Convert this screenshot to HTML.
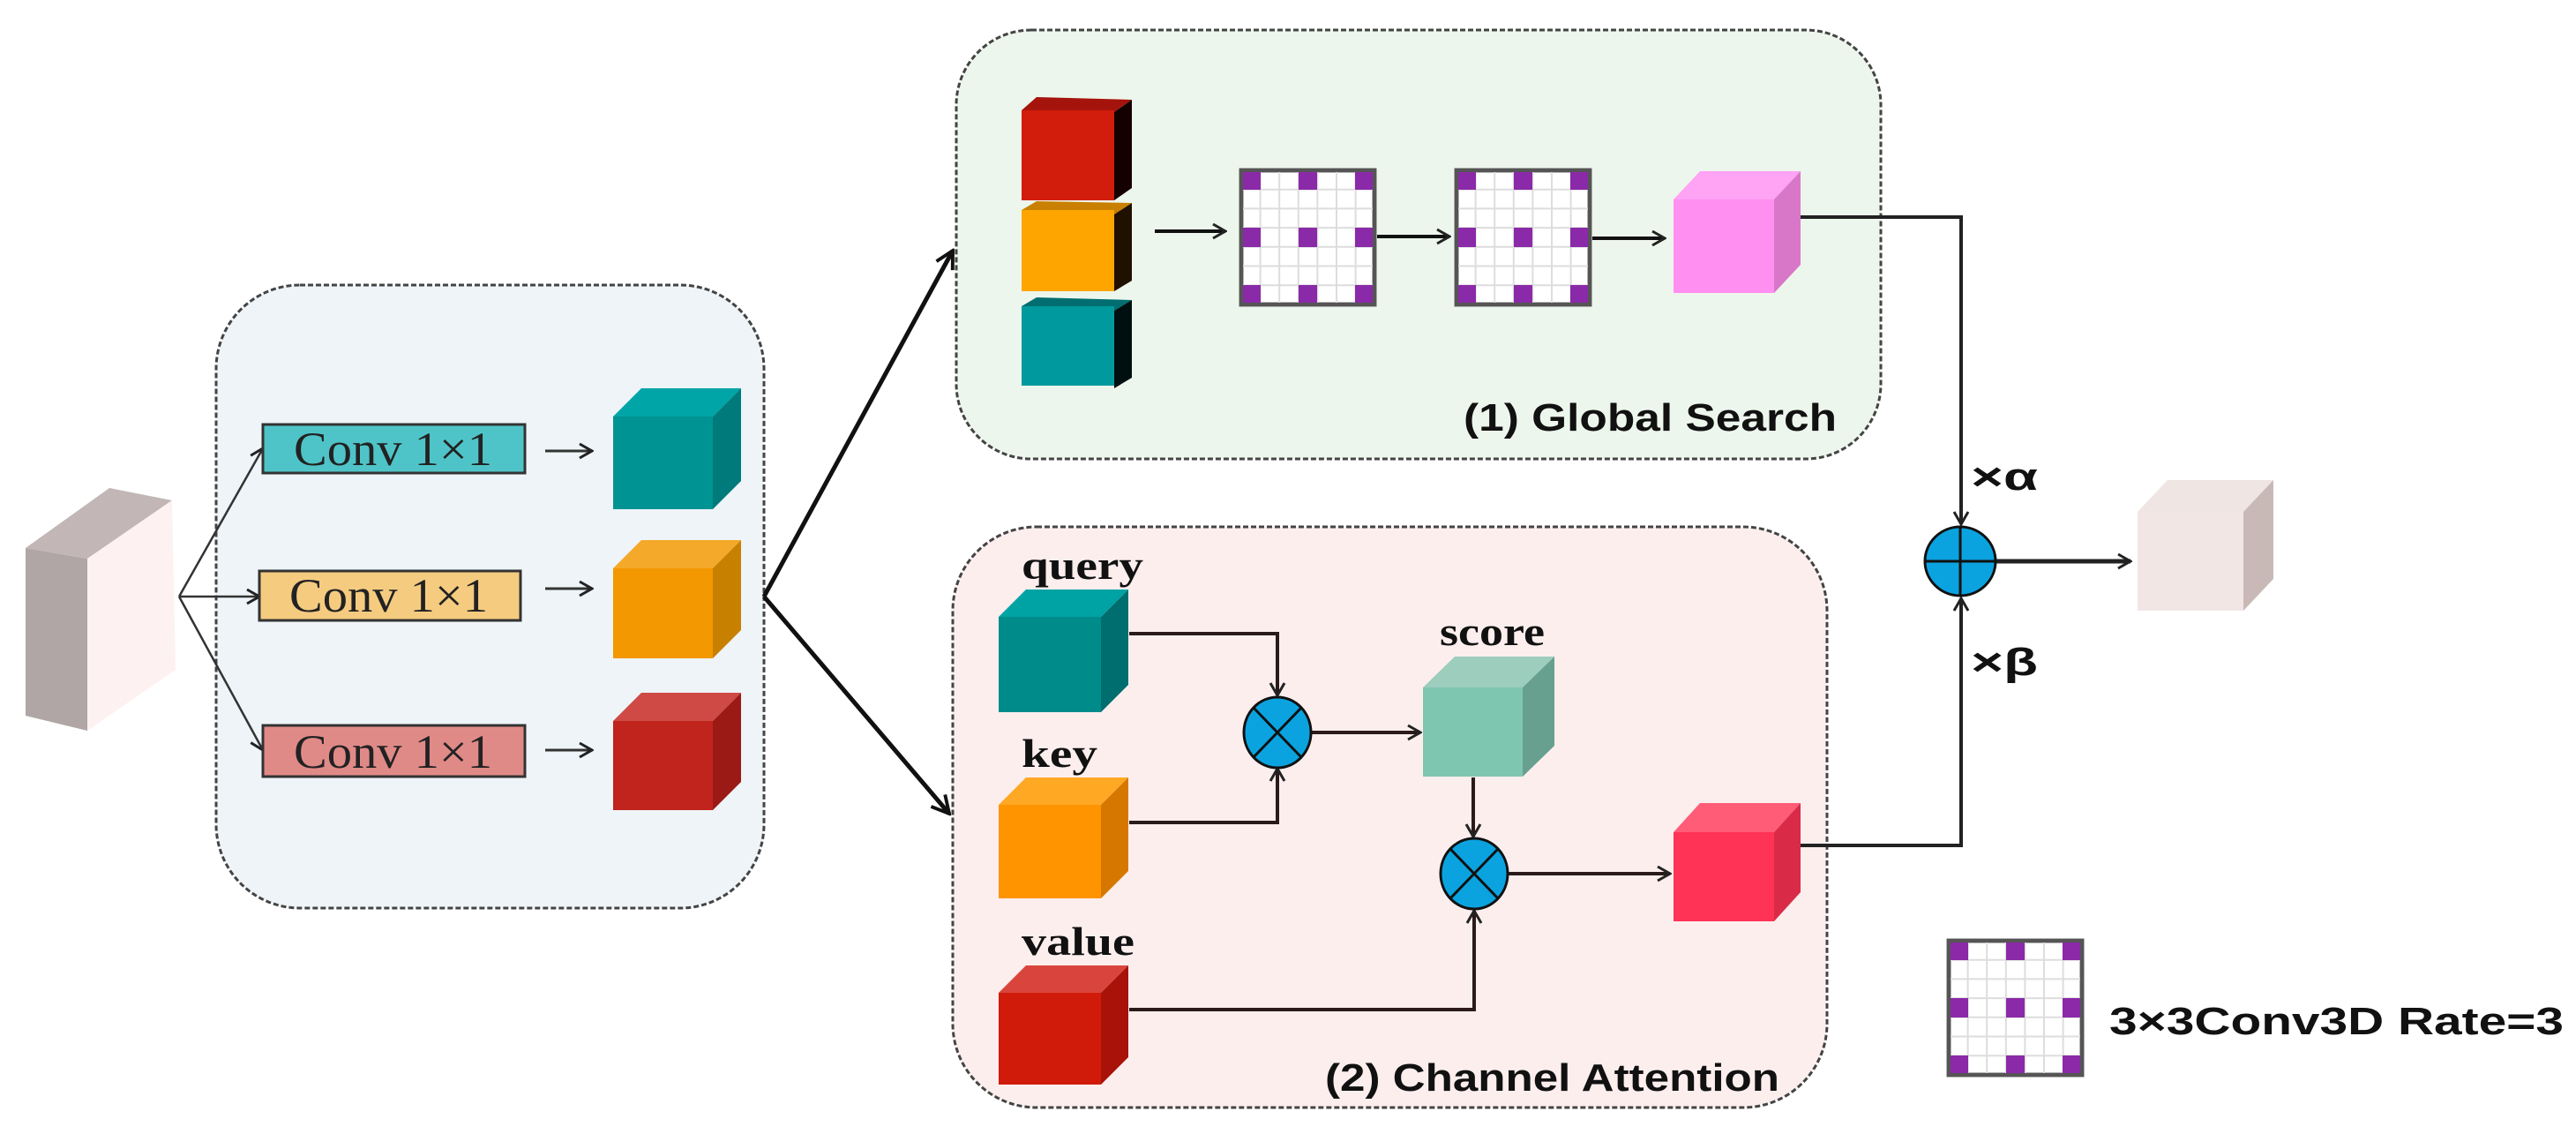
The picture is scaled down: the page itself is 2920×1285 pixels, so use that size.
<!DOCTYPE html>
<html><head><meta charset="utf-8"><style>
html,body{margin:0;padding:0;background:#fff;width:2920px;height:1285px;overflow:hidden}
svg{display:block}
</style></head><body>
<svg width="2920" height="1285" viewBox="0 0 2920 1285" xmlns="http://www.w3.org/2000/svg">
<defs>
<marker id="a" viewBox="0 0 20 20" refX="18" refY="10" markerWidth="20" markerHeight="20" markerUnits="userSpaceOnUse" orient="auto">
<path d="M4,2 L18,10 L4,18" fill="none" stroke="#222" stroke-width="3"/></marker>
<marker id="b" viewBox="0 0 20 20" refX="18" refY="10" markerWidth="26" markerHeight="26" markerUnits="userSpaceOnUse" orient="auto">
<path d="M3,2 L18,10 L3,18" fill="none" stroke="#111" stroke-width="3"/></marker>
<g id="grid">
<rect x="0" y="0" width="151" height="152" fill="#fff" stroke="#666" stroke-width="5"/>
<g stroke="#ddd" stroke-width="2">
<line x1="21.6" y1="0" x2="21.6" y2="152"/><line x1="43.2" y1="0" x2="43.2" y2="152"/><line x1="64.8" y1="0" x2="64.8" y2="152"/><line x1="86.4" y1="0" x2="86.4" y2="152"/><line x1="108" y1="0" x2="108" y2="152"/><line x1="129.6" y1="0" x2="129.6" y2="152"/>
<line x1="0" y1="21.7" x2="151" y2="21.7"/><line x1="0" y1="43.4" x2="151" y2="43.4"/><line x1="0" y1="65.1" x2="151" y2="65.1"/><line x1="0" y1="86.8" x2="151" y2="86.8"/><line x1="0" y1="108.5" x2="151" y2="108.5"/><line x1="0" y1="130.2" x2="151" y2="130.2"/>
</g>
<g fill="#8a2aa8">
<rect x="2" y="2" width="20" height="20"/><rect x="65" y="2" width="21" height="20"/><rect x="129" y="2" width="20" height="20"/>
<rect x="2" y="65" width="20" height="22"/><rect x="65" y="65" width="21" height="22"/><rect x="129" y="65" width="20" height="22"/>
<rect x="2" y="130" width="20" height="20"/><rect x="65" y="130" width="21" height="20"/><rect x="129" y="130" width="20" height="20"/>
</g>
<rect x="0" y="0" width="151" height="152" fill="none" stroke="#555" stroke-width="4"/>
</g>
</defs>

<!-- input block -->
<polygon points="29,621 99,633 99,828 29,811" fill="#b0a6a6"/>
<polygon points="29,621 124,553 195,567 99,633" fill="#c2b6b6"/>
<polygon points="99,633 195,567 199,759 99,828" fill="#fdf1f1"/>

<!-- blue box -->
<rect x="245" y="323" width="621" height="706" rx="95" fill="#eef4f8" stroke="#444" stroke-width="3" stroke-dasharray="6 3"/>
<!-- fork -->
<g stroke="#333" stroke-width="2.5" fill="none" marker-end="url(#a)">
<line x1="203" y1="676" x2="298" y2="508"/>
<line x1="203" y1="676" x2="294" y2="676"/>
<line x1="203" y1="676" x2="298" y2="850"/>
</g>
<!-- conv boxes -->
<rect x="298" y="481" width="297" height="55" fill="#4fc4c8" stroke="#333" stroke-width="3"/>
<rect x="294" y="647" width="296" height="56" fill="#f5cb80" stroke="#333" stroke-width="3"/>
<rect x="298" y="822" width="297" height="58" fill="#e08a88" stroke="#333" stroke-width="3"/>
<g font-family="'Liberation Serif',serif" font-size="54" fill="#222">
<text x="333" y="527" textLength="225" lengthAdjust="spacingAndGlyphs">Conv 1×1</text>
<text x="328" y="693" textLength="225" lengthAdjust="spacingAndGlyphs">Conv 1×1</text>
<text x="333" y="870" textLength="225" lengthAdjust="spacingAndGlyphs">Conv 1×1</text>
</g>
<g stroke="#333" stroke-width="3" marker-end="url(#a)">
<line x1="618" y1="511" x2="671" y2="511"/>
<line x1="618" y1="667" x2="671" y2="667"/>
<line x1="618" y1="850" x2="671" y2="850"/>
</g>
<!-- conv cubes -->
<g>
<polygon points="695,472 727,440 840,440 808,472" fill="#00a5a8"/><polygon points="808,472 840,440 840,545 808,577" fill="#007a7a"/><rect x="695" y="472" width="113" height="105" fill="#009393"/>
<polygon points="695,644 727,612 840,612 808,644" fill="#f5a92a"/><polygon points="808,644 840,612 840,714 808,746" fill="#c88000"/><rect x="695" y="644" width="113" height="102" fill="#f39800"/>
<polygon points="695,817 727,785 840,785 808,817" fill="#cf4a44"/><polygon points="808,817 840,785 840,886 808,918" fill="#9b1a15"/><rect x="695" y="817" width="113" height="101" fill="#c0241d"/>
</g>

<!-- big arrows -->
<g stroke="#111" stroke-width="5" fill="none" marker-end="url(#b)">
<line x1="866" y1="676" x2="1080" y2="284"/>
<line x1="866" y1="676" x2="1076" y2="922"/>
</g>

<!-- green box -->
<rect x="1084" y="34" width="1048" height="486" rx="85" fill="#edf6ec" stroke="#444" stroke-width="3" stroke-dasharray="6 3"/>
<!-- stacked -->
<polygon points="1158,125 1175,110 1283,113 1263,127" fill="#a5140c"/><polygon points="1263,127 1283,113 1283,213 1263,227" fill="#150000"/><rect x="1158" y="125" width="105" height="102" fill="#d21c0c"/>
<polygon points="1158,238 1175,228 1283,230 1263,243" fill="#c98000"/><polygon points="1263,243 1283,230 1283,318 1263,330" fill="#201000"/><rect x="1158" y="238" width="105" height="92" fill="#fea500"/>
<polygon points="1158,347 1175,337 1283,340 1263,352" fill="#006e70"/><polygon points="1263,352 1283,340 1283,428 1263,440" fill="#001010"/><rect x="1158" y="347" width="105" height="90" fill="#009a9e"/>
<g stroke="#111" stroke-width="4" marker-end="url(#a)">
<line x1="1309" y1="262" x2="1389" y2="262"/>
<line x1="1561" y1="268" x2="1643" y2="268"/>
<line x1="1805" y1="270" x2="1887" y2="270"/>
</g>
<use href="#grid" x="1407" y="193"/>
<use href="#grid" x="1651" y="193"/>
<!-- pink cube -->
<polygon points="1897,226 1927,194 2041,194 2011,226" fill="#ffa3f4"/><polygon points="2011,226 2041,194 2041,300 2011,332" fill="#d877c8"/><rect x="1897" y="226" width="114" height="106" fill="#ff8ff0"/>
<text x="1659" y="488" font-family="'Liberation Sans',sans-serif" font-weight="bold" font-size="44" fill="#111" textLength="423" lengthAdjust="spacingAndGlyphs">(1)  Global Search</text>

<!-- pink box -->
<rect x="1080" y="597" width="991" height="658" rx="95" fill="#fdeeee" stroke="#444" stroke-width="3" stroke-dasharray="6 3"/>
<g font-family="'Liberation Serif',serif" font-weight="bold" font-size="46" fill="#111">
<text x="1158" y="656" textLength="138" lengthAdjust="spacingAndGlyphs">query</text>
<text x="1158" y="869" textLength="86" lengthAdjust="spacingAndGlyphs">key</text>
<text x="1158" y="1082" textLength="128" lengthAdjust="spacingAndGlyphs">value</text>
<text x="1632" y="731" textLength="119" lengthAdjust="spacingAndGlyphs">score</text>
</g>
<!-- qkv cubes -->
<polygon points="1132,699 1163,668 1279,668 1248,699" fill="#00a3a3"/><polygon points="1248,699 1279,668 1279,776 1248,807" fill="#006e6e"/><rect x="1132" y="699" width="116" height="108" fill="#008b8b"/>
<polygon points="1132,912 1163,881 1279,881 1248,912" fill="#ffa824"/><polygon points="1248,912 1279,881 1279,987 1248,1018" fill="#d67800"/><rect x="1132" y="912" width="116" height="106" fill="#ff9400"/>
<polygon points="1132,1125 1163,1094 1279,1094 1248,1125" fill="#d9453c"/><polygon points="1248,1125 1279,1094 1279,1198 1248,1229" fill="#a81208"/><rect x="1132" y="1125" width="116" height="104" fill="#d01b0b"/>
<!-- connectors -->
<g stroke="#2a1a1a" stroke-width="4" fill="none">
<polyline points="1280,718 1448,718 1448,788" marker-end="url(#a)"/>
<polyline points="1280,932 1448,932 1448,871" marker-end="url(#a)"/>
<line x1="1486" y1="830" x2="1610" y2="830" marker-end="url(#a)"/>
<line x1="1670" y1="881" x2="1670" y2="948" marker-end="url(#a)"/>
<polyline points="1280,1144 1671,1144 1671,1032" marker-end="url(#a)"/>
<line x1="1710" y1="990" x2="1893" y2="990" marker-end="url(#a)"/>
</g>
<!-- otimes -->
<g stroke="#111" stroke-width="3">
<ellipse cx="1448" cy="830" rx="38" ry="40" fill="#0aa3e0"/>
<line x1="1421" y1="802" x2="1475" y2="858"/><line x1="1475" y1="802" x2="1421" y2="858"/>
<ellipse cx="1671" cy="990" rx="38" ry="40" fill="#0aa3e0"/>
<line x1="1644" y1="962" x2="1698" y2="1018"/><line x1="1698" y1="962" x2="1644" y2="1018"/>
</g>
<!-- score cube -->
<polygon points="1613,779 1649,744 1762,744 1726,779" fill="#9ccdbd"/><polygon points="1726,779 1762,744 1762,845 1726,880" fill="#67a08f"/><rect x="1613" y="779" width="113" height="101" fill="#7fc6b0"/>
<!-- red cube -->
<polygon points="1897,943 1927,910 2041,910 2011,943" fill="#ff5c77"/><polygon points="2011,943 2041,910 2041,1011 2011,1044" fill="#d92b48"/><rect x="1897" y="943" width="114" height="101" fill="#ff3355"/>
<text x="1502" y="1236" font-family="'Liberation Sans',sans-serif" font-weight="bold" font-size="44" fill="#111" textLength="515" lengthAdjust="spacingAndGlyphs">(2)  Channel Attention</text>

<!-- right merges -->
<g stroke="#222" stroke-width="4" fill="none">
<polyline points="2041,246 2223,246 2223,594" marker-end="url(#a)"/>
<polyline points="2041,958 2223,958 2223,678" marker-end="url(#a)"/>
<line x1="2262" y1="636" x2="2415" y2="636" stroke-width="5" marker-end="url(#a)"/>
</g>
<ellipse cx="2222" cy="636" rx="40" ry="39" fill="#0aa3e0" stroke="#111" stroke-width="3"/>
<line x1="2182" y1="636" x2="2262" y2="636" stroke="#111" stroke-width="3"/>
<line x1="2222" y1="597" x2="2222" y2="675" stroke="#111" stroke-width="3"/>
<g font-family="'Liberation Sans',sans-serif" font-weight="bold" font-size="44" fill="#111">
<text x="2234" y="555" textLength="76" lengthAdjust="spacingAndGlyphs">×α</text>
<text x="2234" y="765" textLength="76" lengthAdjust="spacingAndGlyphs">×β</text>
</g>
<!-- output -->
<polygon points="2423,580 2457,544 2577,544 2543,580" fill="#efe5e3"/><polygon points="2543,580 2577,544 2577,656 2543,692" fill="#c9b9b6"/><rect x="2423" y="580" width="120" height="112" fill="#f2e6e4"/>

<!-- legend -->
<use href="#grid" x="2209" y="1066"/>
<text x="2391" y="1172" font-family="'Liberation Sans',sans-serif" font-weight="bold" font-size="44" fill="#111" textLength="515" lengthAdjust="spacingAndGlyphs">3×3Conv3D Rate=3</text>
</svg>
</body></html>
